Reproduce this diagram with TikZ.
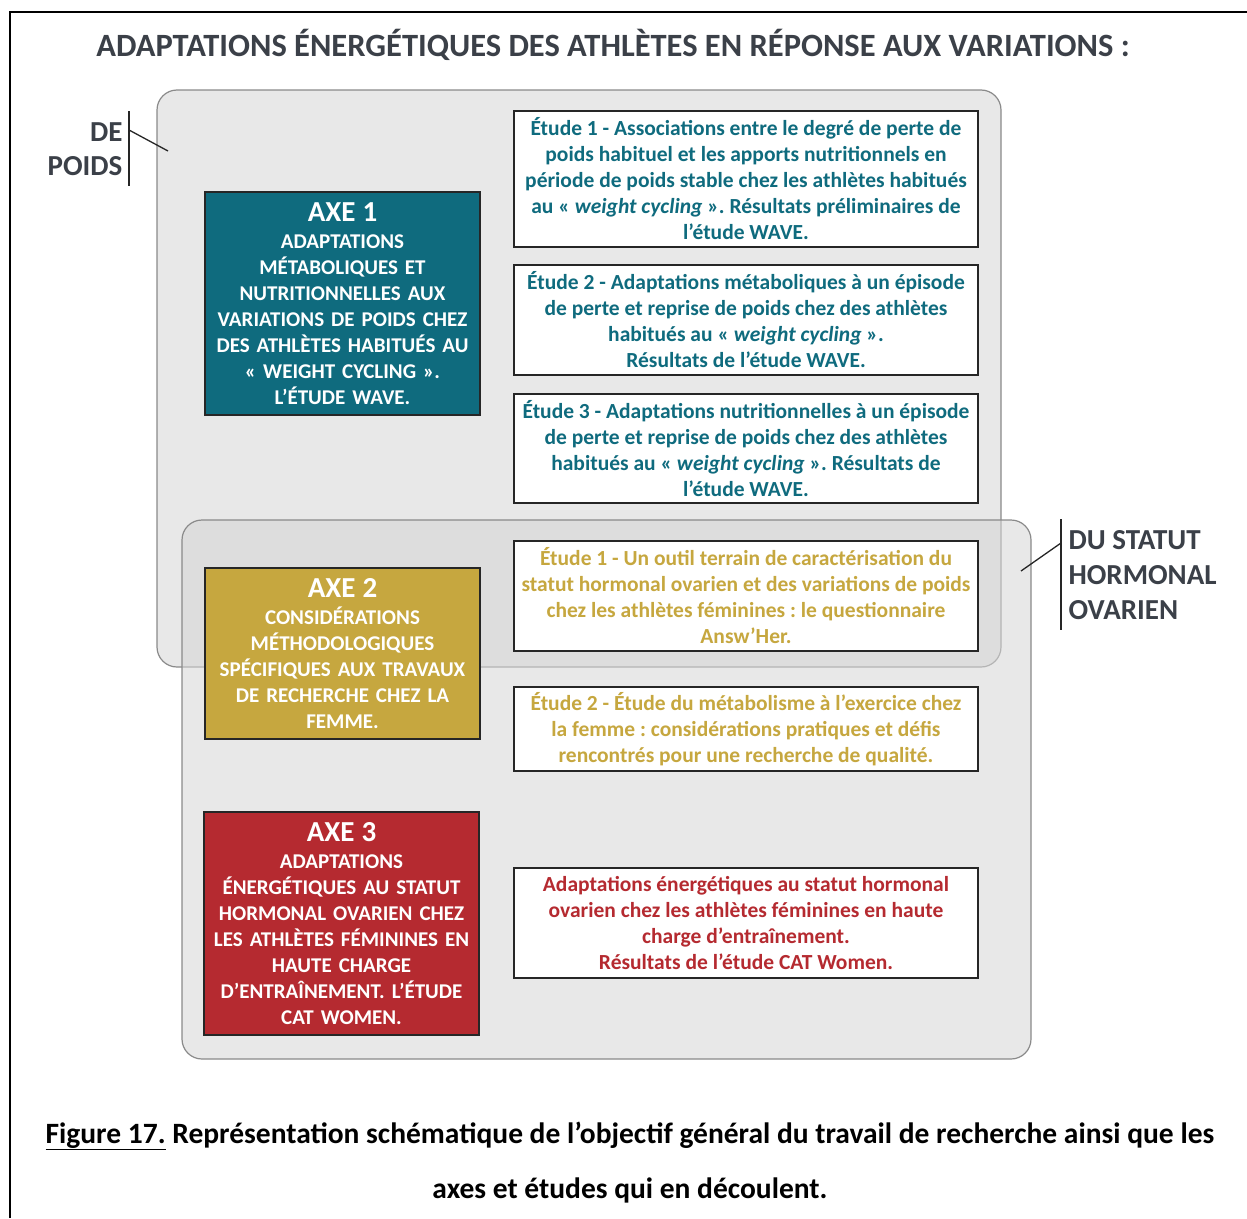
\documentclass[tikz,border=0pt]{standalone}
\usepackage{fontspec}
\setmainfont{Carlito}
\usetikzlibrary{positioning}
\frenchspacing

\definecolor{axeteal}{HTML}{0F6B7E}
\definecolor{axegold}{HTML}{C6A73F}
\definecolor{axered}{HTML}{B52A30}
\definecolor{inkgray}{HTML}{3B4048}
\definecolor{zonefill}{HTML}{E8E8E8}
\definecolor{zoneshade}{HTML}{D6D6D6}
\definecolor{zoneline}{HTML}{8A8A8A}

\begin{document}
\begin{tikzpicture}[x=1pt, y=-1pt,
    zone/.style={draw=zoneline, line width=1.2pt, rounded corners=20pt},
    axebox/.style={draw=black!85, line width=1.6pt, text=white, minimum width=275pt,
        text width=271pt, align=center, inner sep=1pt,
        font=\bfseries\fontsize{21}{26}\selectfont},
    studybox/.style={draw=black!85, line width=1.6pt, fill=white, minimum width=464pt,
        align=center, inner xsep=1pt, font=\bfseries\fontsize{21.5}{26}\selectfont},
    tick/.style={line width=1.3pt, draw=black!85}]

    % Fix the page size and draw the frame
    \useasboundingbox (0,0) rectangle (1247,1218);
    \draw [line width=2pt] (10,1218) -- (10,12) -- (1247,12);

    % Heading
    \node [text=inkgray, font=\bfseries\fontsize{32.5}{38}\selectfont] (heading) at (613,45)
        {ADAPTATIONS ÉNERGÉTIQUES DES ATHLÈTES EN RÉPONSE AUX VARIATIONS :};

    % The two grey zones
    \node [zone, fill=zonefill, minimum width=844pt, minimum height=577pt] (poids) at (579,378.5) {};
    \node [zone, fill=zoneshade, fill opacity=0.56, minimum width=849pt, minimum height=539pt] (statut) at (606.5,789.5) {};

    % Label of the first zone
    \node [anchor=east, align=right, text=inkgray, font=\bfseries\fontsize{29}{34}\selectfont] (depoids) at (126,149) {DE\\POIDS};
    \coordinate (poidsBarTop) at (129,111);
    \coordinate (poidsBarBot) at (129,186);
    \coordinate (poidsTip) at (129,130);
    \coordinate (poidsEnd) at (168,151);
    \draw [tick] (poidsBarTop) -- (poidsBarBot);
    \draw [tick] (poidsTip) -- (poidsEnd);

    % Label of the second zone
    \node [anchor=west, align=left, text=inkgray, font=\bfseries\fontsize{29}{35}\selectfont] (dustatut) at (1065,575) {DU STATUT\\HORMONAL\\OVARIEN};
    \coordinate (statutBarTop) at (1061,519);
    \coordinate (statutBarBot) at (1061,630);
    \coordinate (statutTip) at (1061,543);
    \coordinate (statutEnd) at (1021,571);
    \draw [tick] (statutBarTop) -- (statutBarBot);
    \draw [tick] (statutTip) -- (statutEnd);

    % Axes
    \node [axebox, fill=axeteal, minimum height=223pt] (axeA) at (342.5,303.5)
        {{\fontsize{29}{30}\selectfont AXE 1\par}\vspace{1pt}
        ADAPTATIONS\\MÉTABOLIQUES ET\\NUTRITIONNELLES AUX\\VARIATIONS DE POIDS CHEZ\\DES ATHLÈTES HABITUÉS AU\\« WEIGHT CYCLING ».\\L’ÉTUDE WAVE.};
    \node [axebox, fill=axegold, minimum height=171pt] (axeB) at (342.5,653.5)
        {{\fontsize{29}{30}\selectfont AXE 2\par}\vspace{1pt}
        CONSIDÉRATIONS\\MÉTHODOLOGIQUES\\SPÉCIFIQUES AUX TRAVAUX\\DE RECHERCHE CHEZ LA\\FEMME.};
    \node [axebox, fill=axered, minimum height=223pt] (axeC) at (341.5,923.5)
        {{\fontsize{29}{30}\selectfont AXE 3\par}\vspace{1pt}
        ADAPTATIONS\\ÉNERGÉTIQUES AU STATUT\\HORMONAL OVARIEN CHEZ\\LES ATHLÈTES FÉMININES EN\\HAUTE CHARGE\\D’ENTRAÎNEMENT. L’ÉTUDE\\CAT WOMEN.};

    % Studies of axe 1
    \node [studybox, text=axeteal, minimum height=136pt] (studyA) at (746,179)
        {Étude 1 - Associations entre le degré de perte de\\poids habituel et les apports nutritionnels en\\période de poids stable chez les athlètes habitués\\au « \textit{weight cycling} ». Résultats préliminaires de\\l’étude WAVE.};
    \node [studybox, text=axeteal, minimum height=110pt] (studyB) at (746,320)
        {Étude 2 - Adaptations métaboliques à un épisode\\de perte et reprise de poids chez des athlètes\\habitués au « \textit{weight cycling} ».\\Résultats de l’étude WAVE.};
    \node [studybox, text=axeteal, minimum height=109pt] (studyC) at (746,448.5)
        {Étude 3 - Adaptations nutritionnelles à un épisode\\de perte et reprise de poids chez des athlètes\\habitués au « \textit{weight cycling} ». Résultats de\\l’étude WAVE.};

    % Studies of axe 2
    \node [studybox, text=axegold, minimum height=110pt] (studyD) at (746,596)
        {Étude 1 - Un outil terrain de caractérisation du\\statut hormonal ovarien et des variations de poids\\chez les athlètes féminines : le questionnaire\\Answ’Her.};
    \node [studybox, text=axegold, minimum height=84pt] (studyE) at (746,729)
        {Étude 2 - Étude du métabolisme à l{\char39}exercice chez\\la femme : considérations pratiques et défis\\rencontrés pour une recherche de qualité.};

    % Study of axe 3
    \node [studybox, text=axered, minimum height=110pt] (studyF) at (746,923)
        {Adaptations énergétiques au statut hormonal\\ovarien chez les athlètes féminines en haute\\charge d’entraînement.\\Résultats de l’étude CAT Women.};

    % Caption
    \node [font=\bfseries\fontsize{29.5}{30}\selectfont] (capA) at (630,1136)
        {\underline{Figure 17.} Représentation schématique de l’objectif général du travail de recherche ainsi que les};
    \node [font=\bfseries\fontsize{29.5}{30}\selectfont] (capB) at (630,1190)
        {axes et études qui en découlent.};
\end{tikzpicture}
\end{document}
